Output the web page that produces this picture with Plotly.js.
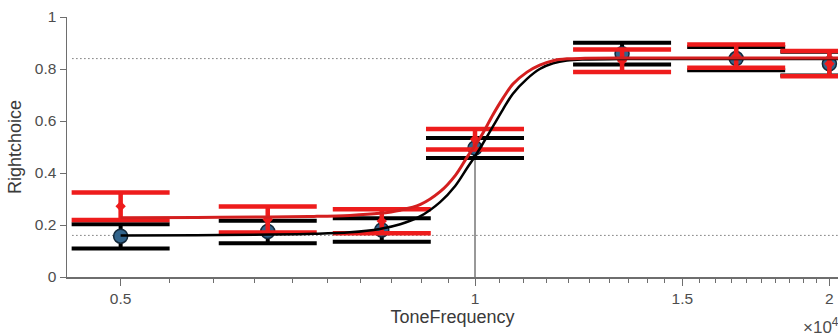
<!DOCTYPE html>
<html>
<head>
<meta charset="utf-8">
<script src="https://cdn.plot.ly/plotly-3.0.1.min.js"></script>
<style>html,body{margin:0;padding:0;background:#fff;}#chart{width:838px;height:336px;}</style>
</head>
<body>
<div id="chart"></div>
<script>
// ---- data ----
const toneFreq = [5000, 6667, 8333, 10000, 13333, 16667, 20000];

const blackMean  = [0.157, 0.175, 0.181, 0.496, 0.859, 0.840, 0.820];
const blackErrUp = [0.046, 0.041, 0.045, 0.039, 0.042, 0.045, 0.046];
const blackErrDn = [0.047, 0.045, 0.045, 0.038, 0.042, 0.045, 0.045];

const redMean  = [0.272, 0.221, 0.215, 0.530, 0.832, 0.849, 0.820];
const redErrUp = [0.053, 0.050, 0.046, 0.039, 0.043, 0.045, 0.049];
const redErrDn = [0.053, 0.050, 0.047, 0.040, 0.044, 0.044, 0.048];

// fitted psychometric curves
const fitFreq  = [5000, 5800, 6700, 7300, 7830, 8300, 8640, 8980, 9340, 9620, 9850, 10000, 10160, 10360, 10560, 10770, 11070, 11350, 11650, 11970, 12400, 13300, 16000, 20400];
const fitBlack = [0.160, 0.161, 0.163, 0.166, 0.172, 0.185, 0.203, 0.233, 0.288, 0.350, 0.420, 0.464, 0.515, 0.580, 0.644, 0.705, 0.762, 0.800, 0.822, 0.833, 0.837, 0.838, 0.838, 0.838];
const fitRed   = [0.228, 0.229, 0.231, 0.233, 0.237, 0.245, 0.257, 0.278, 0.328, 0.390, 0.462, 0.505, 0.555, 0.625, 0.687, 0.742, 0.788, 0.815, 0.832, 0.839, 0.841, 0.842, 0.842, 0.842];

// reference lines
const refLevels = [0.84, 0.16];
const refSpan = [4550, 20400];
const threshFreq = 10000;
const threshLevel = 0.49;

// axis ticks
const xTickVals = [5000, 10000, 15000, 20000];
const xTickText = ['0.5', '1', '1.5', '2'];
const xMinorVals = [4500, 5500, 6000, 6500, 7000, 7500, 8000, 8500, 9000, 9500, 10500, 11000, 11500, 12000, 12500, 13000, 13500, 14000, 14500, 15500, 16000, 16500, 17000, 17500, 18000, 18500, 19000, 19500];
const yTickVals = [0, 0.2, 0.4, 0.6, 0.8, 1];
const yTickText = ['0', '0.2', '0.4', '0.6', '0.8', '1'];

const traces = [];
refLevels.forEach(function (lv) {
  traces.push({
    x: refSpan, y: [lv, lv], mode: 'lines', type: 'scatter', showlegend: false, hoverinfo: 'skip',
    line: {color: '#333333', width: 1, dash: '1px,3px'}
  });
});
traces.push({
  x: [threshFreq, threshFreq], y: [0, threshLevel], mode: 'lines', type: 'scatter', showlegend: false,
  line: {color: '#333333', width: 1}
});
traces.push({
  x: toneFreq, y: blackMean, mode: 'markers', type: 'scatter', showlegend: false,
  marker: {size: 14, color: '#33658c', line: {color: '#13283a', width: 1.5}},
  error_y: {type: 'data', symmetric: false, array: blackErrUp, arrayminus: blackErrDn, color: '#000000', thickness: 4, width: 49}
});
traces.push({
  x: toneFreq, y: redMean, mode: 'markers', type: 'scatter', showlegend: false,
  marker: {size: 8, color: '#ee1c1c', symbol: 'diamond'},
  error_y: {type: 'data', symmetric: false, array: redErrUp, arrayminus: redErrDn, color: '#ee1c1c', thickness: 4.5, width: 49}
});
traces.push({
  x: fitFreq, y: fitBlack, mode: 'lines', type: 'scatter', showlegend: false,
  line: {color: '#000000', width: 2.5, shape: 'spline', smoothing: 1}
});
traces.push({
  x: fitFreq, y: fitRed, mode: 'lines', type: 'scatter', showlegend: false,
  line: {color: '#d41f1f', width: 3, shape: 'spline', smoothing: 1}
});

const axisFont = {family: 'Liberation Sans, Arial, sans-serif', size: 15.5, color: '#4d4d4d'};
const layout = {
  width: 838, height: 336,
  margin: {l: 67, r: 0, t: 17, b: 59, pad: 0},
  paper_bgcolor: '#ffffff', plot_bgcolor: '#ffffff',
  showlegend: false,
  font: {family: 'Liberation Sans, Arial, sans-serif'},
  xaxis: {
    type: 'log', range: [Math.log10(4502), Math.log10(20340)],
    tickmode: 'array', tickvals: xTickVals, ticktext: xTickText,
    ticks: 'outside', ticklen: 7, tickwidth: 1, tickcolor: '#6e6e6e',
    minor: {tickmode: 'array', tickvals: xMinorVals, ticks: 'outside', ticklen: 4, tickwidth: 1, tickcolor: '#6e6e6e', showgrid: false},
    showline: true, linecolor: '#6e6e6e', linewidth: 1.5,
    showgrid: false, zeroline: false, tickfont: axisFont,
    title: {text: 'ToneFrequency', font: {family: 'Liberation Sans, Arial, sans-serif', size: 18, color: '#3a3a3a'}, standoff: 4}
  },
  yaxis: {
    range: [0, 1], tickmode: 'array', tickvals: yTickVals, ticktext: yTickText,
    ticks: 'outside', ticklen: 6, tickwidth: 1, tickcolor: '#6e6e6e',
    showline: true, linecolor: '#6e6e6e', linewidth: 1.5,
    showgrid: false, zeroline: false, tickfont: axisFont,
    title: {text: 'Rightchoice', font: {family: 'Liberation Sans, Arial, sans-serif', size: 18, color: '#3a3a3a'}, standoff: 8}
  },
  annotations: [{
    xref: 'paper', yref: 'paper', x: 1.004, y: -0.19, xanchor: 'right', yanchor: 'middle',
    text: '×10<sup>4</sup>', showarrow: false,
    font: {family: 'Liberation Sans, Arial, sans-serif', size: 17, color: '#4d4d4d'}
  }]
};
Plotly.newPlot('chart', traces, layout, {staticPlot: true, displayModeBar: false});
</script>
</body>
</html>
